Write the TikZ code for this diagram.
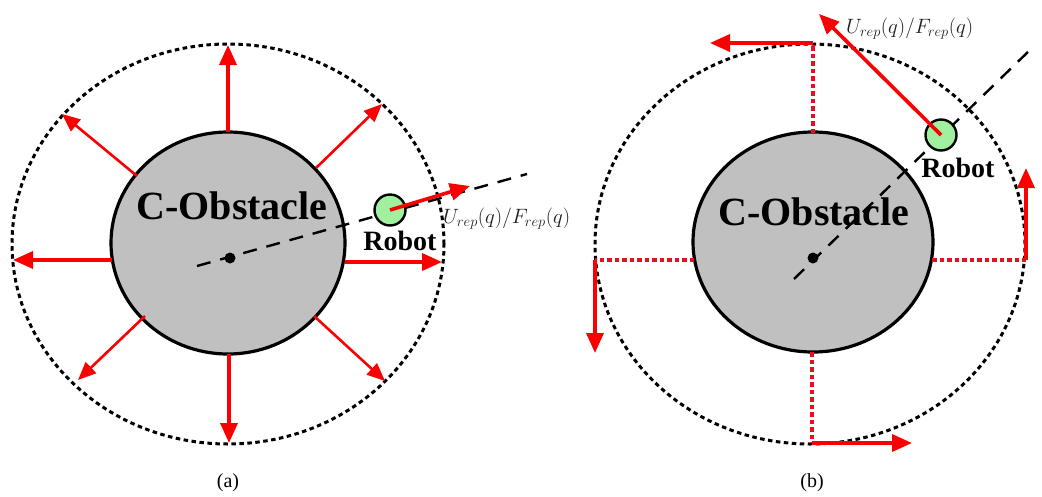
\documentclass[tikz,border=0pt]{standalone}
\usepackage{fontspec}
\setmainfont{Liberation Serif}
\usetikzlibrary{shapes.geometric,arrows.meta}
\definecolor{obst}{RGB}{192,192,192}
\definecolor{robotgreen}{RGB}{160,240,160}
\definecolor{forcered}{RGB}{250,0,0}
\definecolor{pathred}{RGB}{228,16,32}
\definecolor{labelgray}{RGB}{30,30,30}
\newcommand{\potlabel}{\fontsize{22}{22}\selectfont $U_{rep}(q)/F_{rep}(q)$}

\begin{document}
\begin{tikzpicture}[x=1pt,y=-1pt,
  boundary/.style={ellipse, draw=black, line width=3pt,
    dash pattern=on 4.5pt off 3.5pt, inner sep=0pt, outer sep=0pt},
  obstacle/.style={ellipse, draw=black, fill=obst, line width=3.2pt,
    inner sep=0pt, outer sep=0pt},
  refpoint/.style={circle, fill=black, minimum size=11pt, inner sep=0pt},
  robotdot/.style={circle, draw=black, fill=robotgreen, line width=2.4pt,
    minimum size=31pt, inner sep=0pt},
  sightline/.style={draw=black, line width=2.4pt, dash pattern=on 14pt off 10pt},
  bigtip/.style={-{Triangle[length=20pt,width=17pt]}},
  radial/.style={draw=forcered, line width=3.6pt, bigtip},
  diagonal/.style={draw=forcered, line width=2.6pt,
    -{Triangle[length=18pt,width=15pt]}},
  force/.style={draw=forcered, line width=3.6pt, bigtip},
  normalpath/.style={draw=pathred, line width=4pt, dash pattern=on 4.5pt off 3pt},
  title/.style={font=\fontsize{40}{40}\selectfont\bfseries, inner sep=0pt},
  robotname/.style={font=\fontsize{28}{28}\selectfont\bfseries, inner sep=0pt},
  caption/.style={font=\fontsize{20}{20}\selectfont, inner sep=0pt}
]
\useasboundingbox[fill=white] (0,0) rectangle (1042,496);

% ---------- (a): radial repulsive field ----------
\node[boundary, minimum width=432pt, minimum height=400pt] (outerA) at (228,244) {};
\node[obstacle, minimum width=234pt, minimum height=222pt] (obsA) at (228,243) {};
\node[title] (titleA) at (232,206) {C-Obstacle};

\coordinate (aUp0) at (228,132);  \coordinate (aUp1) at (228,45);
\coordinate (aDn0) at (229,354);  \coordinate (aDn1) at (229,443);
\coordinate (aLf0) at (112,260);  \coordinate (aLf1) at (13,260);
\coordinate (aRt0) at (345,262);  \coordinate (aRt1) at (442,262);
\coordinate (aUL0) at (137,176);  \coordinate (aUL1) at (62,114);
\coordinate (aUR0) at (316,168);  \coordinate (aUR1) at (382,104);
\coordinate (aLL0) at (145,316);  \coordinate (aLL1) at (78,380);
\coordinate (aLR0) at (314,316);  \coordinate (aLR1) at (385,381);

\draw[radial] (aUp0) -- (aUp1);
\draw[radial] (aDn0) -- (aDn1);
\draw[radial] (aLf0) -- (aLf1);
\draw[radial] (aRt0) -- (aRt1);
\draw[diagonal] (aUL0) -- (aUL1);
\draw[diagonal] (aUR0) -- (aUR1);
\draw[diagonal] (aLL0) -- (aLL1);
\draw[diagonal] (aLR0) -- (aLR1);

\coordinate (sightA0) at (197,266);
\coordinate (sightA1) at (527,174);
\draw[sightline] (sightA0) -- (sightA1);
\node[refpoint] (ptA) at (230,258) {};
\node[robotdot] (robA) at (390,210) {};
\coordinate (forceA) at (470,186);
\draw[force] (robA.center) -- (forceA);
\node[robotname] (nameA) at (400,241) {Robot};
\node[anchor=west, inner sep=0pt, text=labelgray] (potA) at (443,219) {\potlabel};
\node[caption] (capA) at (228,483) {(a)};

% ---------- (b): tangential (rotational) field ----------
\node[boundary, minimum width=430pt, minimum height=400pt] (outerB) at (810,244) {};
\node[obstacle, minimum width=240pt, minimum height=220pt] (obsB) at (813,242) {};
\node[title] (titleB) at (814,212) {C-Obstacle};

\coordinate (bUp0) at (813,133);  \coordinate (bUp1) at (813,43);  \coordinate (bUp2) at (710,43);
\coordinate (bRt0) at (932,260);  \coordinate (bRt1) at (1026,260); \coordinate (bRt2) at (1026,168);
\coordinate (bDn0) at (812,352);  \coordinate (bDn1) at (812,443); \coordinate (bDn2) at (912,443);
\coordinate (bLf0) at (694,260);  \coordinate (bLf1) at (595,260); \coordinate (bLf2) at (595,353);

\draw[normalpath] (bUp0) -- (bUp1);
\draw[normalpath] (bRt0) -- (bRt1);
\draw[normalpath] (bDn0) -- (bDn1);
\draw[normalpath] (bLf0) -- (bLf1);
\draw[force] (bUp1) -- (bUp2);
\draw[force] (bRt1) -- (bRt2);
\draw[force] (bDn1) -- (bDn2);
\draw[force] (bLf1) -- (bLf2);

\coordinate (sightB0) at (794,279);
\coordinate (sightB1) at (1031,49);
\draw[sightline] (sightB0) -- (sightB1);
\node[refpoint] (ptB) at (813,258) {};
\node[robotdot] (robB) at (941,135) {};
\coordinate (forceB) at (819,14);
\draw[force] (robB.center) -- (forceB);
\node[robotname] (nameB) at (958,168) {Robot};
\node[anchor=west, inner sep=0pt, text=labelgray] (potB) at (846,29) {\potlabel};
\node[caption] (capB) at (812,483) {(b)};
\end{tikzpicture}
\end{document}
